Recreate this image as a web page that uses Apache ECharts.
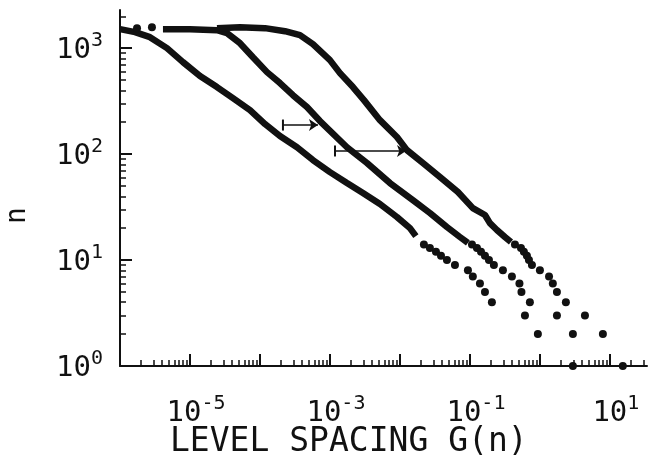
<!DOCTYPE html>
<html><head><meta charset="utf-8">
<script src="https://cdn.jsdelivr.net/npm/echarts@6/dist/echarts.min.js"></script>
<style>html,body{margin:0;padding:0;background:#fff}#c{width:652px;height:460px}</style>
</head><body><div id="c"></div>
<script>
// ---- data: [G(n), n] ----
const curveA = [[1.0e-6,1510],[1.64e-6,1416],[2.68e-6,1270],[4.69e-6,1000],[7.94e-6,738],[1.39e-5,545],[2.43e-5,429],[4.11e-5,337],[7.2e-5,260],[1.18e-4,192],[1.93e-4,148],[3.38e-4,116],[5.71e-4,87.8],[1.0e-3,67.6],[1.75e-3,53.3],[2.96e-3,42.9],[5.18e-3,33.8],[9.06e-3,25.5],[1.39e-2,20.0],[1.69e-2,16.8]];
const dotsA = [[0.022,14],[0.0268,13],[0.0327,12],[0.0386,11],[0.0469,10],[0.0611,9],[0.0936,8],[0.110,7],[0.139,6],[0.164,5],[0.206,4],[0.611,3],[0.935,2],[2.96,1]];
const curveB = [[4.11e-6,1510],[1.0e-5,1510],[2.43e-5,1479],[3.38e-5,1386],[5.18e-5,1114],[7.94e-5,822],[1.26e-4,594],[1.93e-4,468],[2.96e-4,360],[4.69e-4,278],[7.2e-4,205],[1.75e-3,116],[3.38e-3,82.3],[7.2e-3,53.3],[1.53e-2,36.8],[2.68e-2,27.8],[4.69e-2,20.5],[7.2e-2,16.5],[9.36e-2,14.5]];
const dotsB = [[1.75e-6,1545],[2.86e-6,1578],[0.107,14],[0.126,13],[0.144,12],[0.164,11],[0.187,10],[0.220,9],[0.296,8],[0.398,7],[0.510,6],[0.545,5],[0.719,4],[1.75,3],[2.96,2],[15.3,1]];
const curveC = [[2.43e-5,1545],[5.18e-5,1578],[1.18e-4,1545],[2.28e-4,1445],[3.73e-4,1326],[5.71e-4,1091],[1.0e-3,771],[1.39e-3,581],[2.13e-3,429],[3.06e-3,323],[5.18e-3,209],[9.06e-3,145],[1.26e-2,109],[2.13e-2,82.3],[3.73e-2,60.7],[6.74e-2,43.8],[0.110,30.9],[0.164,26.6],[0.193,22.3],[0.243,19.2],[0.316,16.5],[0.386,14.8]];
const dotsC = [[0.440,14],[0.536,13],[0.590,12],[0.652,11],[0.697,10],[0.769,9],[1.0,8],[1.35,7],[1.53,6],[1.75,5],[2.35,4],[4.40,3],[7.94,2]];
// horizontal arrows: [Gstart, Gend, n]
const arrows = [[2.13e-4, 6.74e-4, 188],[1.18e-3, 1.22e-2, 107]];
// axes
const xRange = [1e-6, 33.9];
const yRange = [1, 2291];
const xMajorTicks = [1e-6,1e-5,1e-4,1e-3,1e-2,1e-1,1,10];
const xLabelValues = [1e-5,1e-3,1e-1,10];
const xLabelExps = ['-5','-3','-1','1'];
const yMajorTicks = [1,10,100,1000];
const yLabelExps = ['0','1','2','3'];
const mantissas = [2,3,4,5,6,7,8,9];
const xTitle = 'LEVEL SPACING G(n)';
const yTitle = 'n';

const xMinorTicks = [], yMinorTicks = [];
xMajorTicks.forEach(d => mantissas.forEach(m => { const v = d*m; if (v <= xRange[1]) xMinorTicks.push(v); }));
yMajorTicks.forEach(d => mantissas.forEach(m => { const v = d*m; if (v <= yRange[1]) yMinorTicks.push(v); }));

const INK = '#111';
const FONT = 'DejaVu Sans Mono';
const richX = {
  b: {fontFamily: FONT, fontSize: 29, lineHeight: 34, color: INK, verticalAlign: 'bottom', padding: [0,0,0,12]},
  s: {fontFamily: FONT, fontSize: 20, lineHeight: 20, color: INK, verticalAlign: 'top'}
};
const richY = {
  b: {fontFamily: FONT, fontSize: 29, lineHeight: 34, color: INK, verticalAlign: 'bottom'},
  s: {fontFamily: FONT, fontSize: 20, lineHeight: 20, color: INK, verticalAlign: 'top'}
};
function expOf(v, vals, exps) {
  for (let i = 0; i < vals.length; i++) if (Math.abs(Math.log10(v) - Math.log10(vals[i])) < 1e-6) return exps[i];
  return null;
}

const chart = echarts.init(document.getElementById('c'), null, {renderer: 'canvas'});
const lineSeries = (d) => ({type: 'line', data: d, showSymbol: false, symbol: 'none', lineStyle: {color: INK, width: 6.5}, z: 3, animation: false, silent: true});
const dotSeries = (d) => ({type: 'scatter', data: d, symbol: 'circle', symbolSize: 8, itemStyle: {color: INK, opacity: 1}, z: 4, animation: false, silent: true});

chart.setOption({
  animation: false,
  backgroundColor: '#fff',
  grid: {left: 120, right: 5, top: 10, bottom: 94, containLabel: false},
  title: [{text: xTitle, left: 165, top: 421, textStyle: {fontFamily: FONT, fontSize: 33, fontWeight: 'normal', color: INK}}],
  graphic: [{type: 'text', x: 4, y: 224, rotation: Math.PI/2, style: {text: yTitle, font: '28px "DejaVu Sans Mono"', fill: INK}}],
  xAxis: [
    {type: 'log', min: xRange[0], max: xRange[1], position: 'bottom',
      axisLine: {show: true, lineStyle: {color: INK, width: 2}},
      axisTick: {show: true, inside: true, length: 12, lineStyle: {color: INK, width: 2}, customValues: xMajorTicks},
      axisLabel: {show: true, margin: 28, customValues: xLabelValues, formatter: v => { const e = expOf(v, xLabelValues, xLabelExps); return e === null ? '' : '{b|10}{s|' + e + '}'; }, rich: richX},
      splitLine: {show: false}, minorTick: {show: false}},
    {type: 'log', min: xRange[0], max: xRange[1], position: 'bottom',
      axisLine: {show: false},
      axisTick: {show: true, inside: true, length: 6, lineStyle: {color: INK, width: 1.5}, customValues: xMinorTicks},
      axisLabel: {show: false}, splitLine: {show: false}}
  ],
  yAxis: [
    {type: 'log', min: yRange[0], max: yRange[1], position: 'left',
      axisLine: {show: true, lineStyle: {color: INK, width: 2}},
      axisTick: {show: true, inside: true, length: 12, lineStyle: {color: INK, width: 2}, customValues: yMajorTicks},
      axisLabel: {show: true, margin: 17, customValues: yMajorTicks, formatter: v => { const e = expOf(v, yMajorTicks, yLabelExps); return e === null ? '' : '{b|10}{s|' + e + '}'; }, rich: richY},
      splitLine: {show: false}},
    {type: 'log', min: yRange[0], max: yRange[1], position: 'left',
      axisLine: {show: false},
      axisTick: {show: true, inside: true, length: 6, lineStyle: {color: INK, width: 1.5}, customValues: yMinorTicks},
      axisLabel: {show: false}, splitLine: {show: false}}
  ],
  series: [
    lineSeries(curveA), lineSeries(curveB), lineSeries(curveC),
    dotSeries(dotsA), dotSeries(dotsB), dotSeries(dotsC),
    {type: 'lines', coordinateSystem: 'cartesian2d', xAxisIndex: 0, yAxisIndex: 0,
      data: arrows.map(a => ({coords: [[a[0], a[2]], [a[1], a[2]]]})),
      symbol: ['none', 'arrow'], symbolSize: 9, lineStyle: {color: INK, width: 1.5, opacity: 1}, z: 5, animation: false, silent: true},
    {type: 'scatter', data: arrows.map(a => [a[0], a[2]]), symbol: 'rect', symbolSize: [2, 11], itemStyle: {color: INK, opacity: 1}, z: 5, animation: false, silent: true}
  ]
});
</script></body></html>
